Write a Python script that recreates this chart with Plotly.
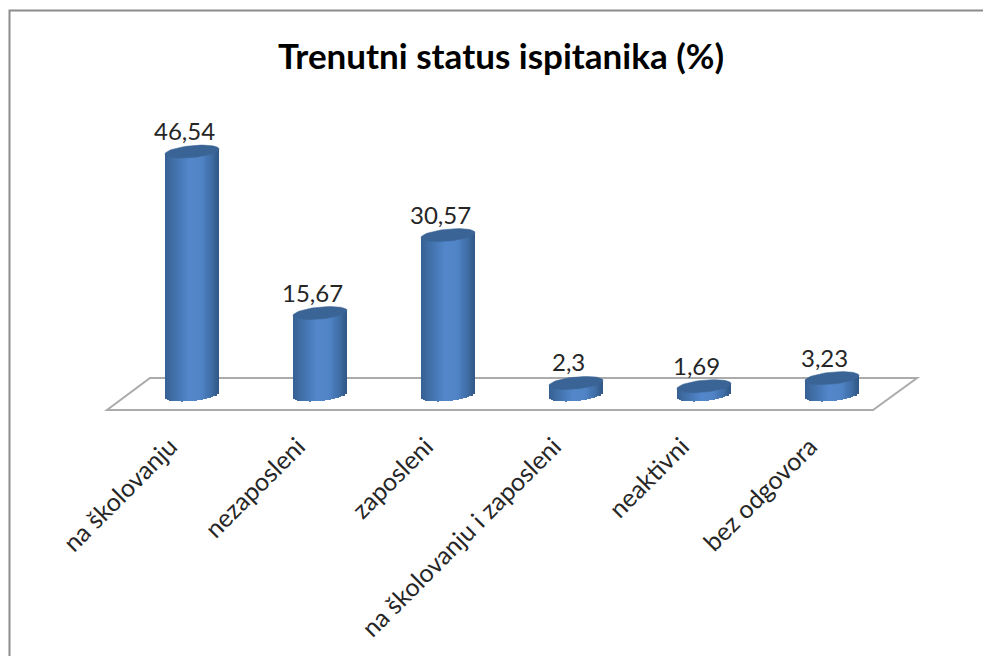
import math
import plotly.graph_objects as go

categories = ["na školovanju", "nezaposleni", "zaposleni",
              "na školovanju i zaposleni", "neaktivni", "bez odgovora"]
values = [46.54, 15.67, 30.57, 2.3, 1.69, 3.23]
title_text = "Trenutni status ispitanika (%)"

W, H = 983, 656
PL, PR, PT, PB = 128, 896, 100, 412      # plot area in pixels
Y0_PX, PX_PER_UNIT = 395, 5.23           # pixel of value 0, pixels per unit
X_UNIT = (PR - PL) / len(categories)
HALF_W = 27 / X_UNIT                     # cylinder half-width (x units)
CAP_B, TILT = 6.0 / PX_PER_UNIT, 2.5 / PX_PER_UNIT
N = 27

def px(x): return (x - PL) / (PR - PL)
def py(y): return (PB - y) / (PB - PT)

def lerp_color(t):
    stops = [(-1.0, (54, 96, 146)), (-0.7, (64, 111, 167)), (-0.1, (82, 135, 203)),
             (0.35, (80, 132, 198)), (0.75, (62, 107, 162)), (1.0, (48, 85, 130))]
    for (a, ca), (b, cb) in zip(stops, stops[1:]):
        if a <= t <= b:
            f = (t - a) / (b - a)
            return "rgb(%d,%d,%d)" % tuple(round(p + (q - p) * f) for p, q in zip(ca, cb))
    return "rgb(70,120,180)"

fig = go.Figure()
xs_idx = list(range(len(categories)))

# Cylinder bodies: vertical strips built from the values
for s in range(N):
    t = -1 + 2 * (s + 0.5) / N
    curve = math.sqrt(max(0, 1 - t * t))
    bottom = -(CAP_B * curve) + TILT * t
    top_off = TILT * t
    fig.add_trace(go.Bar(
        x=[i + t * HALF_W for i in xs_idx],
        y=[v + top_off - bottom for v in values],
        base=[bottom] * len(values),
        width=2.6 * HALF_W / N,
        marker=dict(color=lerp_color(t), line=dict(width=0)),
        hoverinfo="skip", showlegend=False,
    ))

# Cylinder caps
for i, v in zip(xs_idx, values):
    xc, yc = [], []
    for k in range(61):
        a = 2 * math.pi * k / 60
        xc.append(i + HALF_W * math.cos(a))
        yc.append(v + TILT * math.cos(a) + CAP_B * math.sin(a))
    fig.add_trace(go.Scatter(
        x=xc, y=yc, mode="lines", fill="toself",
        fillcolor="#3A6495", line=dict(color="#3A6495", width=0.5),
        hoverinfo="skip", showlegend=False,
    ))

# Data labels
annotations = [dict(
    x=i, y=v, xref="x", yref="y", text=str(v).replace(".", ","),
    showarrow=False, xshift=-8, yshift=21, yanchor="middle", xanchor="center",
    font=dict(family="Lato", size=24, color="#262626"),
) for i, v in zip(xs_idx, values)]

shapes = [
    # Floor
    dict(type="path", xref="paper", yref="paper", layer="below",
         path="M %f %f L %f %f L %f %f L %f %f Z" % (
             px(107), py(410), px(873), py(410), px(917), py(378), px(150), py(378)),
         fillcolor="white", line=dict(color="#ABABAB", width=2)),
    # Frame
    dict(type="path", xref="paper", yref="paper", layer="below",
         path="M %f %f L %f %f L %f %f" % (px(9.5), py(H), px(9.5), py(10.5), px(W), py(10.5)),
         line=dict(color="#8C8C8C", width=2)),
]

fig.update_layout(
    width=W, height=H, autosize=False,
    margin=dict(l=PL, r=W - PR, t=PT, b=H - PB, pad=0),
    paper_bgcolor="white", plot_bgcolor="rgba(0,0,0,0)",
    barmode="overlay", bargap=0,
    title=dict(text="<b>%s</b>" % title_text, x=501 / W, y=1 - 57 / H,
               xanchor="center", yanchor="middle", xref="container", yref="container",
               font=dict(family="Lato", size=35, color="#000000")),
    xaxis=dict(range=[-0.5, 5.5], tickmode="array", tickvals=xs_idx, ticktext=categories,
               tickangle=-45, ticks="", showgrid=False, zeroline=False, showline=False,
               ticklabelshift=-22, ticklabelstandoff=14,
               tickfont=dict(family="Lato", size=25, color="#262626")),
    yaxis=dict(range=[(Y0_PX - PB) / PX_PER_UNIT, (Y0_PX - PT) / PX_PER_UNIT],
               visible=False, showgrid=False, zeroline=False),
    annotations=annotations, shapes=shapes,
)

fig.write_html("out.html", config={"displayModeBar": False},
               post_script="document.body.style.margin='0';document.body.style.overflow='hidden';")
